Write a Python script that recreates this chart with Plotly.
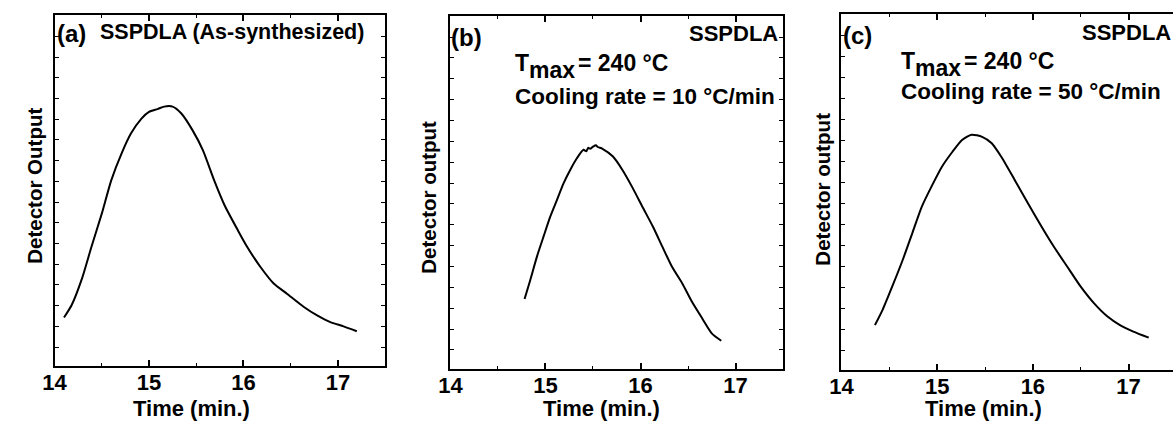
import plotly.graph_objects as go

# ---------------- data ----------------
time_a = [14.10, 14.18, 14.29, 14.39, 14.50, 14.60, 14.71, 14.81, 14.92, 15.00,
          15.09, 15.16, 15.25, 15.34, 15.46, 15.57, 15.69, 15.80, 15.94, 16.04,
          16.18, 16.32, 16.46, 16.64, 16.78, 16.92, 17.06, 17.20]
signal_a = [13.8, 17.3, 24.9, 33.9, 43.4, 52.9, 60.6, 66.3, 70.5, 72.4,
            73.2, 73.9, 73.9, 72.0, 67.2, 61.5, 52.9, 45.8, 38.7, 33.9,
            28.2, 23.5, 20.6, 16.8, 14.4, 12.5, 11.3, 9.9]

time_b = [14.78, 14.84, 14.91, 14.98, 15.05, 15.12, 15.19, 15.26, 15.33, 15.40,
          15.43, 15.45, 15.47, 15.50, 15.53, 15.55, 15.60, 15.71, 15.81, 15.92,
          16.02, 16.13, 16.23, 16.33, 16.44, 16.54, 16.65, 16.75, 16.85]
signal_b = [19.8, 25.2, 31.8, 37.5, 43.1, 47.8, 52.5, 56.3, 59.6, 62.0,
            61.6, 62.6, 62.3, 62.9, 63.3, 62.8, 62.3, 60.1, 56.3, 51.1,
            45.9, 40.3, 34.6, 29.0, 24.2, 19.1, 14.3, 10.1, 8.0]

time_c = [14.35, 14.43, 14.53, 14.64, 14.74, 14.84, 14.95, 15.05, 15.16, 15.26,
          15.36, 15.47, 15.57, 15.67, 15.81, 15.95, 16.09, 16.22, 16.36, 16.50,
          16.64, 16.78, 16.91, 17.05, 17.21]
signal_c = [12.6, 16.9, 23.4, 30.9, 38.4, 45.9, 52.0, 57.1, 61.3, 64.6,
            66.1, 65.5, 63.7, 59.9, 53.4, 46.8, 40.3, 34.6, 29.0, 23.4,
            18.7, 15.0, 12.6, 10.8, 9.1]

x_ticks = [14, 15, 16, 17]
x_tick_text = ["14", "15", "16", "17"]
panel_labels = ["(a)", "(b)", "(c)"]
sample_names = ["SSPDLA (As-synthesized)", "SSPDLA", "SSPDLA"]
tmax_parts = ["T", "max", "= 240 °C"]
cooling_texts = ["Cooling rate = 10 °C/min", "Cooling rate = 50 °C/min"]
y_titles = ["Detector Output", "Detector output", "Detector output"]
x_title = "Time (min.)"

# ---------------- figure ----------------
W, H = 1173, 423
FONT = "Liberation Sans, Arial, sans-serif"

def px(x):
    return x / W

def py(y):
    return 1 - y / H

fig = go.Figure()
series = [(time_a, signal_a), (time_b, signal_b), (time_c, signal_c)]
for i, (tx, sy) in enumerate(series):
    fig.add_trace(go.Scatter(x=tx, y=sy, mode="lines",
                             line=dict(color="black", width=2, shape="spline", smoothing=0.6),
                             xaxis="x" if i == 0 else f"x{i+1}",
                             yaxis="y" if i == 0 else f"y{i+1}",
                             showlegend=False, hoverinfo="skip"))

domains_x = [[px(43), px(377)], [px(443), px(779)], [px(838), 1.0]]
domains_y = [[py(366), py(15)], [py(369), py(15.5)], [py(370), py(14)]]
x_ranges = [[14, 17.5], [14, 17.5], [14, 17.464]]

layout = dict(width=W, height=H, margin=dict(l=0, r=0, t=0, b=0),
              paper_bgcolor="white", plot_bgcolor="white", autosize=False,
              font=dict(family=FONT, color="black"))
for i in range(3):
    sx = "" if i == 0 else str(i + 1)
    layout[f"xaxis{sx}"] = dict(
        domain=domains_x[i], range=x_ranges[i], anchor=f"y{sx}",
        showline=True, linecolor="black", linewidth=2,
        mirror="ticks", ticks="inside", ticklen=6, tickwidth=1.5, tickcolor="black",
        tickvals=x_ticks, ticktext=x_tick_text, showgrid=False, zeroline=False,
        ticklabelstandoff=-4,
        tickfont=dict(family=FONT, size=22, color="black", weight="bold"),
        minor=dict(dtick=0.5, tick0=14, ticks="inside", ticklen=3, tickwidth=1, tickcolor="black", showgrid=False),
        fixedrange=True)
    layout[f"yaxis{sx}"] = dict(
        domain=domains_y[i], range=[0, 100], anchor=f"x{sx}",
        showline=True, linecolor="black", linewidth=2,
        mirror=("ticks" if i < 2 else False), ticks="inside", ticklen=4, tickwidth=1, tickcolor="black",
        tick0=5.4, dtick=5.9, showticklabels=False, showgrid=False, zeroline=False,
        fixedrange=True)
fig.update_layout(**layout)

ann = []
def add(text, x, y, size, xanchor="left", yanchor="middle", angle=0):
    ann.append(dict(text=text, x=px(x), y=py(y), xref="paper", yref="paper",
                    xanchor=xanchor, yanchor=yanchor, showarrow=False, textangle=angle,
                    borderpad=0,
                    font=dict(family=FONT, size=size, color="black", weight="bold")))

# panel labels
add(panel_labels[0], 44, 33, 24)
add(panel_labels[1], 443, 37, 24)
add(panel_labels[2], 839, 35, 24)
# sample names
add(sample_names[0], 88, 32, 21.5)
add(sample_names[1], 775, 33, 22, xanchor="right")
add(sample_names[2], 1172, 32, 22, xanchor="right")
# conditions: T_max rows (T, subscript max, value) and cooling rate rows
for x0, yrow in [(507, 63), (897, 61)]:
    add(tmax_parts[0], x0, yrow, 23)
    add(tmax_parts[1], x0 + 14, yrow + 7, 23)
    add(tmax_parts[2], x0 + 64, yrow, 23)
add(cooling_texts[0], 507, 96, 22.5)
add(cooling_texts[1], 897, 92, 22.5)
# axis titles
add(x_title, 181, 408, 22, xanchor="center")
add(x_title, 596, 408, 22, xanchor="center")
add(x_title, 982, 408, 22, xanchor="center")
add(y_titles[0], 22, 186, 20.5, xanchor="center", angle=-90)
add(y_titles[1], 420, 197, 20.5, xanchor="center", angle=-90)
add(y_titles[2], 818, 189, 20.5, xanchor="center", angle=-90)
fig.update_layout(annotations=ann)

fig.write_html("out.html", config={"displayModeBar": False},
               post_script="document.body.style.margin='0';")
